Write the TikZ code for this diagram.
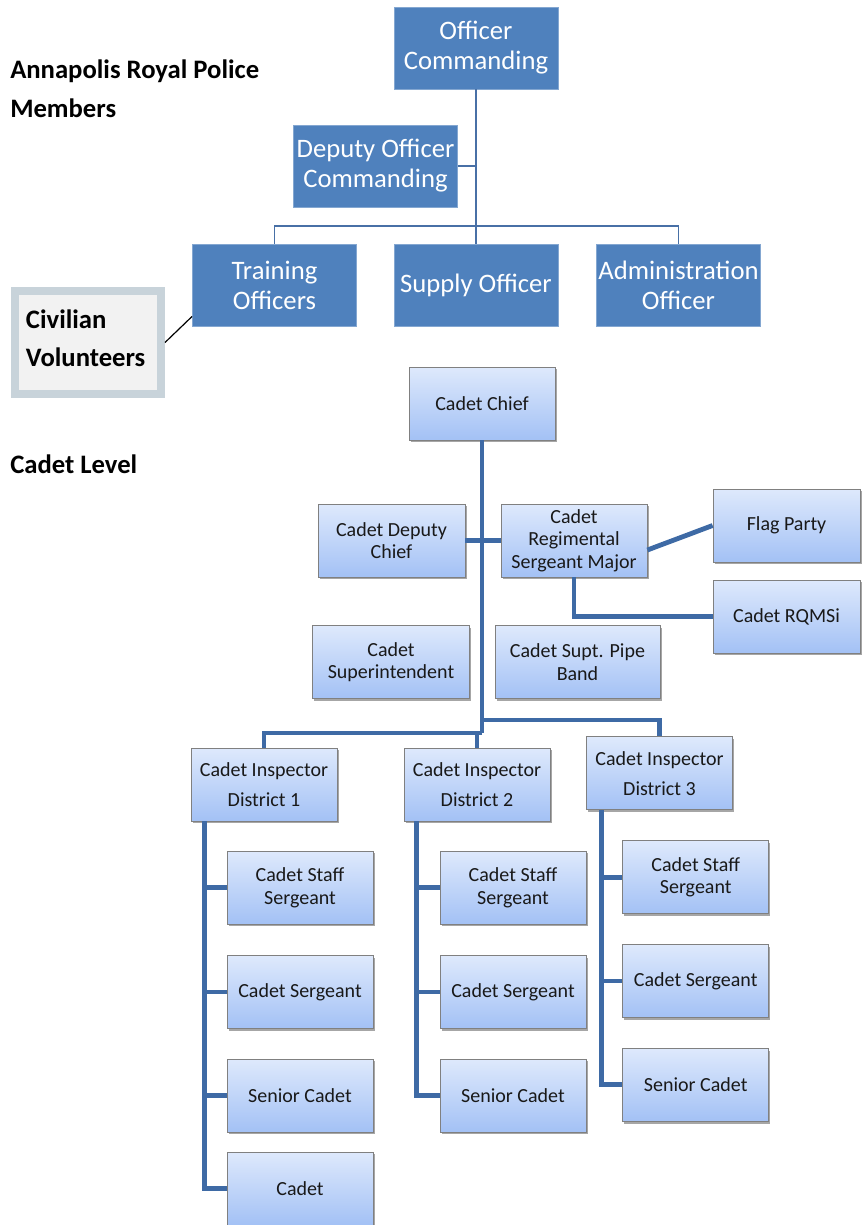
\documentclass[tikz,border=0pt]{standalone}
\usepackage{fontspec}
\setmainfont{Carlito}
\usetikzlibrary{shadows,calc}
\definecolor{topblue}{RGB}{79,129,189}
\definecolor{topline}{RGB}{72,112,166}
\definecolor{clinecol}{RGB}{62,106,165}
\definecolor{gtop}{RGB}{222,233,252}
\definecolor{gbot}{RGB}{163,193,245}
\definecolor{civborder}{RGB}{200,211,218}
\definecolor{civfill}{RGB}{242,242,242}
\begin{document}
\begin{tikzpicture}[x=0.75pt,y=-0.75pt,
 tbox/.style={fill=topblue, draw=topblue!70!white, line width=0.6pt, text=white, align=center, inner sep=0pt, minimum width=123pt, minimum height=61.5pt, font=\fontsize{20}{22.5}\selectfont},
 cbox/.style={top color=gtop, bottom color=gbot, draw=black!50, line width=0.6pt, text=black!90, align=center, inner sep=0pt, minimum width=109.5pt, minimum height=54.75pt, font=\fontsize{15}{17}\selectfont, drop shadow={shadow xshift=1.2pt, shadow yshift=-1.8pt, opacity=0.35, fill=black}},
 dbox/.style={cbox, font=\fontsize{15}{22.5}\selectfont},
 tline/.style={draw=topline, line width=1.1pt},
 conn/.style={draw=clinecol, line width=3.6pt},
 heading/.style={font=\bfseries\fontsize{20}{29}\selectfont, align=left, inner sep=0pt, anchor=west}
]
\useasboundingbox[fill=white] (0,0) rectangle (861,1225);

% headings
\node[heading] (h1) at (10,89) {Annapolis Royal Police\\Members};
\node[heading, anchor=base west] (h2) at (10,473) {Cadet Level};

% top part
\node[tbox] (oc) at (476,48) {Officer\\Commanding};
\node[tbox] (doc) at (375.5,166) {Deputy Officer\\Commanding};
\node[tbox] (train) at (274.5,285) {Training\\Officers};
\node[tbox] (supply) at (476,285) {Supply Officer};
\node[tbox] (admin) at (678.5,285) {Administration\\Officer};
\coordinate (tbar) at (476,226);
\draw[tline] (oc.south) -- (supply.north);
\draw[tline] (doc.east) -- (doc.east -| oc.south);
\draw[tline] (train.north) |- (tbar) -| (admin.north);

\node[draw=civborder, line width=6pt, fill=civfill, minimum width=109.5pt, minimum height=77.25pt, inner sep=0pt, font=\bfseries\fontsize{20}{28.5}\selectfont] (civ) at (88,342.5) {\raisebox{3pt}[\height][\depth]{\parbox{93pt}{\raggedright Civilian\\Volunteers}}};
\draw[black, line width=0.9pt] (civ.east) -- ($(train.south west)+(0,-10)$);

% cadet part
\node[cbox] (chief) at (482,403.5) {Cadet Chief};
\node[cbox, minimum width=110.25pt] (dc) at (391.5,540.5) {Cadet Deputy\\Chief};
\node[cbox] (crsm) at (574,540.5) {Cadet\\Regimental\\Sergeant Major};
\node[cbox, minimum width=110.25pt] (flag) at (786.5,525.5) {Flag Party};
\node[cbox, minimum width=110.25pt] (rqmsi) at (786.5,616.5) {Cadet RQMSi};
\node[cbox, minimum width=118pt] (supt) at (391,662) {Cadet\\Superintendent};
\node[cbox, minimum width=123.75pt] (pipe) at (577.5,662) {Cadet Supt. Pipe\\Band};

\node[dbox] (d1) at (264,784.5) {Cadet Inspector\\District 1};
\node[dbox] (d2) at (477,784.5) {Cadet Inspector\\District 2};
\node[dbox] (d3) at (659.5,773.3) {Cadet Inspector\\District 3};

\node[cbox] (d1c1) at (300,887.5) {Cadet Staff\\Sergeant};
\node[cbox] (d1c2) at (300,992) {Cadet Sergeant};
\node[cbox] (d1c3) at (300,1095.5) {Senior Cadet};
\node[cbox] (d1c4) at (300,1188.5) {Cadet};

\node[cbox] (d2c1) at (513,887.5) {Cadet Staff\\Sergeant};
\node[cbox] (d2c2) at (513,992) {Cadet Sergeant};
\node[cbox] (d2c3) at (513,1095.5) {Senior Cadet};

\node[cbox] (d3c1) at (695.7,877.3) {Cadet Staff\\Sergeant};
\node[cbox] (d3c2) at (695.7,981) {Cadet Sergeant};
\node[cbox] (d3c3) at (695.7,1084.7) {Senior Cadet};

% cadet connectors
\coordinate (j1) at (482,720);
\coordinate (j2) at (482,733);
\draw[conn] (chief.south) -- (j2);
\draw[conn] (dc.east) -- (crsm.west);
\draw[conn] ($(crsm.east)+(0,9.5)$) -- (flag.west);
\draw[conn] (crsm.south) |- (rqmsi.west);
\draw[conn] (j1) -| (d3.north);
\draw[conn] (j2) -| (d1.north);
\draw[conn] (d2.north) -- (d2.north |- j2);

\coordinate (s1) at ($(d1.south west)+(14,0)$);
\coordinate (s2) at ($(d2.south west)+(13,0)$);
\coordinate (s3) at ($(d3.south west)+(15,0)$);
\draw[conn] (s1) |- (d1c4.west);
\foreach \nd in {d1c1,d1c2,d1c3} \draw[conn] (s1 |- \nd.west) -- (\nd.west);
\draw[conn] (s2) |- (d2c3.west);
\foreach \nd in {d2c1,d2c2} \draw[conn] (s2 |- \nd.west) -- (\nd.west);
\draw[conn] (s3) |- (d3c3.west);
\foreach \nd in {d3c1,d3c2} \draw[conn] (s3 |- \nd.west) -- (\nd.west);
\end{tikzpicture}
\end{document}
